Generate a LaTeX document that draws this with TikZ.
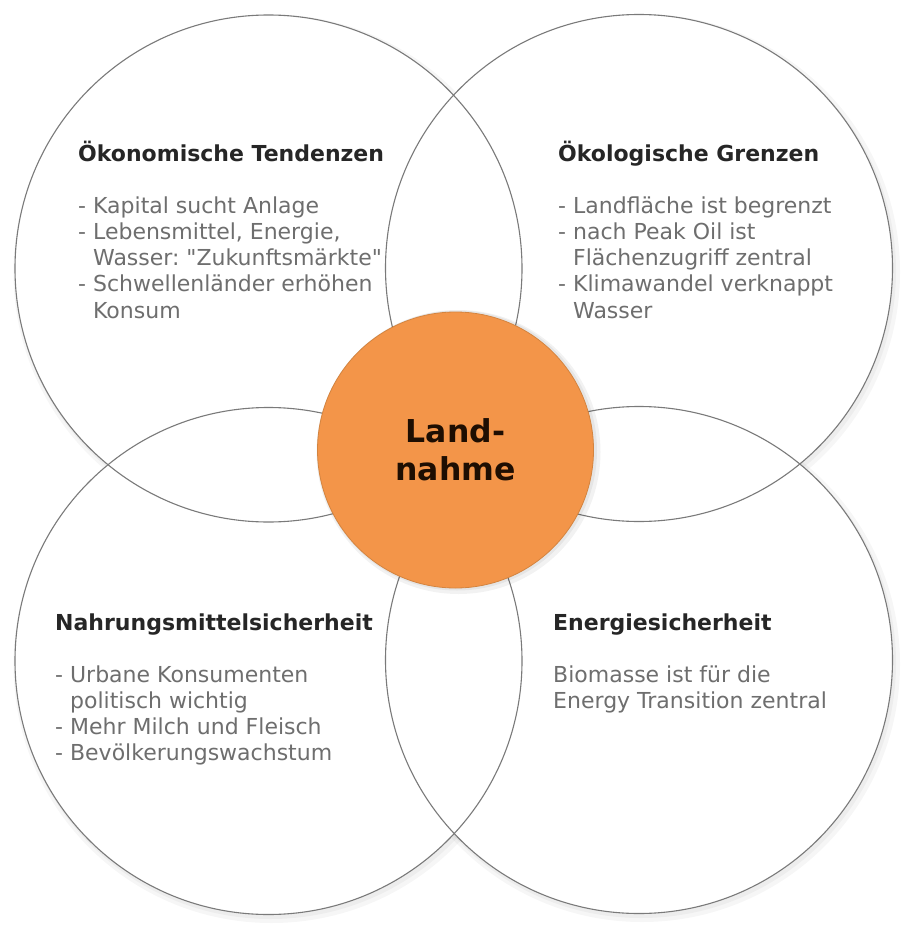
\documentclass[tikz,border=0pt]{standalone}
\usepackage{fontspec}
\setmainfont{DejaVu Sans}[Ligatures=TeXOff]
\frenchspacing
\definecolor{ringgray}{HTML}{7A7A7A}
\definecolor{titlecol}{HTML}{262626}
\definecolor{bodycol}{HTML}{6E6E6E}
\definecolor{orangefill}{HTML}{F39549}
\definecolor{orangeedge}{HTML}{D4843F}
\definecolor{centertext}{HTML}{1E0E02}
\begin{document}
\begin{tikzpicture}[x=1pt,y=-1pt,
  ring/.style={draw=ringgray, line width=1.1pt},
  ringshadow/.style={fill=black, opacity=0.035},
  block/.style={anchor=north west, inner sep=0pt, align=left, text=bodycol,
    font=\fontsize{22}{26.2}\selectfont\frenchspacing}]
\useasboundingbox (0,0) rectangle (904,934);
\fill[white] (0,0) rectangle (904,934);
% shadows
\foreach \cx/\cy in {268.5/268.5, 639/268, 268.5/661, 639/660}{
  \fill[ringshadow] (\cx+3,\cy+4) circle (258);
  \fill[ringshadow] (\cx+2,\cy+3) circle (255);
}
\foreach \cx/\cy in {268.5/268.5, 639/268, 268.5/661, 639/660}{
  \fill[white] (\cx,\cy) circle (253.5);
}
% rings
\node[ring, circle, minimum size=507pt, inner sep=0pt] (tl) at (268.5,268.5) {};
\node[ring, circle, minimum size=507pt, inner sep=0pt] (tr) at (639,268) {};
\node[ring, circle, minimum size=507pt, inner sep=0pt] (bl) at (268.5,661) {};
\node[ring, circle, minimum size=507pt, inner sep=0pt] (br) at (639,660) {};
% centre
\fill[black, opacity=0.05] (458.5,452) circle (142);
\fill[black, opacity=0.05] (457,450.5) circle (140);
\node[circle, fill=orangefill, draw=orangeedge, line width=0.8pt, minimum size=276pt,
  inner sep=0pt, align=center, text=centertext,
  font=\fontsize{31.5}{38}\selectfont\bfseries] (land) at (455.5,450) {Land-\\nahme};
% text blocks
\newcommand{\hd}[1]{\textcolor{titlecol}{\bfseries #1}}
\newcommand{\ind}{\hphantom{- }}
\node[block] (tltext) at (78,140.5) {\strut\hd{Ökonomische Tendenzen}\\[26pt]
- Kapital sucht Anlage\\
- Lebensmittel, Energie,\\
\ind Wasser: "Zukunftsmärkte"\\
- Schwellenländer erhöhen\\
\ind Konsum};
\node[block] (trtext) at (558,140.5) {\strut\hd{Ökologische Grenzen}\\[26pt]
- Landfläche ist begrenzt\\
- nach Peak Oil ist\\
\ind Flächenzugriff zentral\\
- Klimawandel verknappt\\
\ind Wasser};
\node[block] (bltext) at (55,611.5) {\strut\hd{Nahrungsmittelsicherheit}\\[26pt]
- Urbane Konsumenten\\
\ind politisch wichtig\\
- Mehr Milch und Fleisch\\
- Bevölkerungswachstum};
\node[block] (brtext) at (553,611.5) {\strut\hd{Energiesicherheit}\\[26pt]
Biomasse ist für die\\
Energy Transition zentral};
\end{tikzpicture}
\end{document}
